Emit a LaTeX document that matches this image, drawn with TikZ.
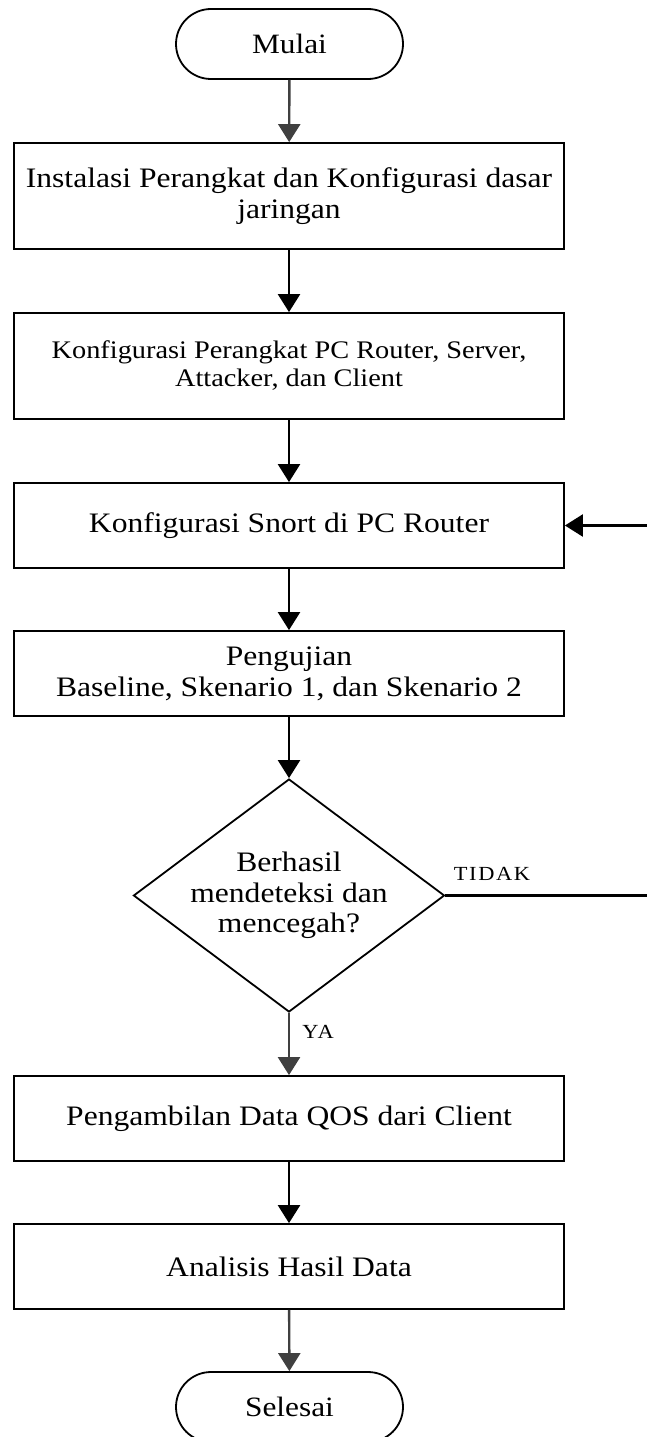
\documentclass[tikz,border=0pt]{standalone}
\usepackage{fontspec}
\setmainfont{Liberation Serif}[FakeStretch=1.12]
\usetikzlibrary{arrows.meta,shapes.geometric}
\definecolor{abu}{HTML}{404040}

\begin{document}
\begin{tikzpicture}[x=1pt,y=-1pt,
		proses/.style={draw,line width=1.8pt,minimum width=550pt,minimum height=#1,inner sep=0pt,align=center,font=\fontsize{28.2}{31}\selectfont},
		proses/.default=85pt,
		terminal/.style={draw,line width=1.8pt,rounded corners=35pt,minimum width=227pt,minimum height=70pt,inner sep=0pt,font=\fontsize{28}{30}\selectfont},
		keputusan/.style={draw,diamond,line width=1.8pt,minimum width=311pt,minimum height=233pt,inner sep=0pt},
		ket/.style={inner sep=0pt,font=\fontsize{20}{22}\selectfont\addfontfeature{LetterSpace=8}},
		panah/.style={-{Triangle[length=18pt,width=22pt]},line width=2.4pt},
		panahabu/.style={panah,draw=abu,fill=abu}]
	\useasboundingbox (0,0) rectangle (647,1437);
	\node[terminal] (mulai) at (289.5,44) {Mulai};
	\node[proses=106pt] (instal) at (289,196) {Instalasi Perangkat dan Konfigurasi dasar\\jaringan};
	\node[proses=106pt,font=\fontsize{25.3}{28}\selectfont] (konf) at (289,366) {Konfigurasi Perangkat PC Router, Server,\\Attacker, dan Client};
	\node[proses] (snort) at (289,525.5) {Konfigurasi Snort di PC Router};
	\node[proses] (uji) at (289,673.5) {Pengujian\\Baseline, Skenario 1, dan Skenario 2};
	\node[keputusan] (cek) at (289,895.5) {};
	\node[align=center,inner sep=0pt,font=\fontsize{28.2}{30.5}\selectfont] (cekteks) at (cek) {Berhasil\\mendeteksi dan\\mencegah?};
	\node[proses] (qos) at (289,1118.5) {Pengambilan Data QOS dari Client};
	\node[proses] (analisis) at (289,1266.5) {Analisis Hasil Data};
	\node[terminal] (selesai) at (289.5,1407) {Selesai};
	\node[ket] (tidak) at (492,874) {TIDAK};
	\node[ket] (ya) at (318,1032) {YA};
	\coordinate (balik) at (652,895.5);

	\draw[panahabu] (mulai) -- (instal);
	\draw[panah] (instal) -- (konf);
	\draw[panah] (konf) -- (snort);
	\draw[panah] (snort) -- (uji);
	\draw[panah] (uji) -- (cek);
	\draw[panahabu] (cek) -- (qos);
	\draw[panah] (qos) -- (analisis);
	\draw[panahabu] (analisis) -- (selesai);
	\draw[panah] (cek.east) -- (balik) |- (snort.east);
\end{tikzpicture}
\end{document}
